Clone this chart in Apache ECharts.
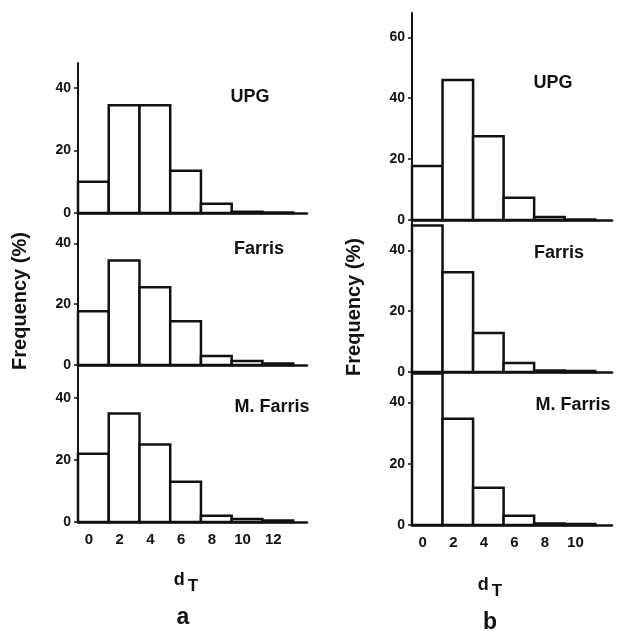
<!DOCTYPE html>
<html>
<head>
<meta charset="utf-8">
<script src="https://cdn.jsdelivr.net/npm/echarts@6/dist/echarts.min.js"></script>
<style>
html,body{margin:0;padding:0;background:#fff;}
#main{width:618px;height:631px;}
</style>
</head>
<body>
<div id="main"></div>
<script>
// bin centres (dT) and frequencies (%)
var binsA = [0, 2, 4, 6, 8, 10, 12];
var upgA = [10, 34.5, 34.5, 13.5, 3, 0.4, 0.2];
var farrisA = [17.7, 34.4, 25.6, 14.4, 3, 1.3, 0.5];
var mFarrisA = [22, 35, 25, 13, 2, 1, 0.5];

var binsB = [0, 2, 4, 6, 8, 10];
var upgB = [17.7, 46, 27.5, 7.3, 1, 0.2];
var farrisB = [48.2, 32.8, 12.8, 3, 0.5, 0.3];
var mFarrisB = [49.5, 34.7, 12.2, 3, 0.5, 0.3];

var labelsA = [0, 2, 4, 6, 8, 10, 12];
var labelsB = [0, 2, 4, 6, 8, 10];

var ink = '#111';
var font = 'Liberation Sans';

var myChart = echarts.init(document.getElementById('main'));

function renderBin(params, api) {
	var x = api.value(0), v = api.value(1);
	var p0 = api.coord([x - 1, v]);
	var p1 = api.coord([x + 1, 0]);
	return {
		type: 'rect',
		shape: {x: p0[0], y: p0[1], width: p1[0] - p0[0], height: p1[1] - p0[1]},
		style: {fill: '#fff', stroke: ink, lineWidth: 2.5}
	};
}

function pairs(bins, vals) {
	return bins.map(function (b, i) { return [b, vals[i]]; });
}

// panel layout: grid per subplot
var panels = [
	{left: 78, right: 311, top: 63, height: 150, max: 48, xmax: 13.9, labels: labelsA, bottom: false, ticks: [0, 20, 40]},
	{left: 78, right: 311, top: 213, height: 152, max: 50, xmax: 13.9, labels: labelsA, bottom: false, ticks: [0, 20, 40]},
	{left: 78, right: 311, top: 367, height: 155, max: 50, xmax: 13.9, labels: labelsA, bottom: true, ticks: [0, 20, 40]},
	{left: 412, right: 6, top: 13, height: 207, max: 68, xmax: 12.1, labels: labelsB, bottom: false, ticks: [0, 20, 40, 60]},
	{left: 412, right: 6, top: 220, height: 152, max: 50, xmax: 12.1, labels: labelsB, bottom: false, ticks: [0, 20, 40]},
	{left: 412, right: 6, top: 372, height: 153, max: 50, xmax: 12.1, labels: labelsB, bottom: true, ticks: [0, 20, 40]}
];
var seriesData = [pairs(binsA, upgA), pairs(binsA, farrisA), pairs(binsA, mFarrisA),
	pairs(binsB, upgB), pairs(binsB, farrisB), pairs(binsB, mFarrisB)];

var grids = [], xAxes = [], yAxes = [], series = [];
panels.forEach(function (p, i) {
	grids.push({left: p.left, right: p.right, top: p.top, height: p.height});
	xAxes.push({
		type: 'value', gridIndex: i, min: -1, max: p.xmax,
		axisLine: {onZero: false, lineStyle: {color: ink, width: 2.5}},
		axisTick: {show: false},
		splitLine: {show: false},
		axisLabel: {
			show: p.bottom, customValues: p.labels, margin: 10, padding: [0, 9, 0, 0],
			color: ink, fontFamily: font, fontWeight: 'bold', fontSize: 15
		}
	});
	yAxes.push({
		type: 'value', gridIndex: i, min: 0, max: p.max,
		axisLine: {show: true, onZero: false, lineStyle: {color: ink, width: 2}},
		axisTick: {show: true, length: 4, customValues: p.ticks, lineStyle: {color: ink, width: 1.5}},
		splitLine: {show: false},
		axisLabel: {
			customValues: p.ticks, margin: 7,
			color: ink, fontFamily: font, fontWeight: 'bold', fontSize: 14
		}
	});
	series.push({
		type: 'custom', xAxisIndex: i, yAxisIndex: i,
		renderItem: renderBin, clip: false,
		encode: {x: 0, y: 1},
		data: seriesData[i]
	});
});

function label(text, x, y, size, rot) {
	return {
		type: 'text', x: x, y: y, rotation: rot || 0,
		style: {text: text, fill: ink, font: 'bold ' + size + 'px "Liberation Sans"', align: 'center', verticalAlign: 'middle'}
	};
}
function dT(x, y) {
	return {
		type: 'text', x: x, y: y,
		style: {
			text: '{d|d}{s|T}', align: 'center', verticalAlign: 'middle',
			rich: {
				d: {fill: ink, fontFamily: font, fontWeight: 'bold', fontSize: 18},
				s: {fill: ink, fontFamily: font, fontWeight: 'bold', fontSize: 17, padding: [12, 0, 0, 3]}
			}
		}
	};
}

var option = {
	animation: false,
	backgroundColor: '#fff',
	grid: grids,
	xAxis: xAxes,
	yAxis: yAxes,
	series: series,
	graphic: [
		label('Frequency (%)', 20, 301, 20, Math.PI / 2),
		label('Frequency (%)', 354, 307, 20, Math.PI / 2),
		label('UPG', 250, 97, 18),
		label('Farris', 259, 249, 18),
		label('M. Farris', 272, 407, 18),
		label('UPG', 553, 83, 18),
		label('Farris', 559, 253, 18),
		label('M. Farris', 573, 405, 18),
		dT(186, 580),
		dT(490, 585),
		label('a', 183, 618, 23),
		label('b', 490, 623, 23)
	]
};
myChart.setOption(option);
</script>
</body>
</html>
